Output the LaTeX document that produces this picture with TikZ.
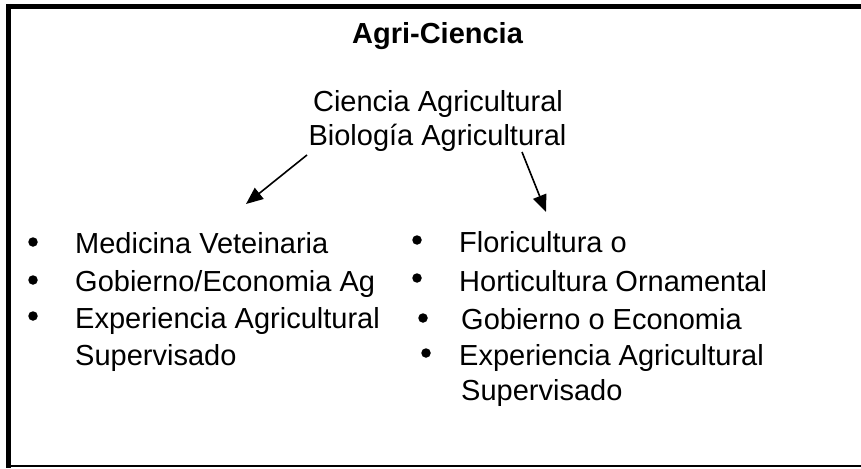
\documentclass[tikz,border=0pt]{standalone}
\usepackage{fontspec}
\setmainfont{Liberation Sans}
\usetikzlibrary{arrows.meta}
\begin{document}
\begin{tikzpicture}[x=1pt,y=-1pt,
  txt/.style={inner sep=0pt,anchor=base west,font=\fontsize{29}{33}\selectfont},
  ctxt/.style={inner sep=0pt,anchor=base,font=\fontsize{29}{33}\selectfont},
  bul/.style={circle,fill=black,inner sep=0pt,minimum size=9.5pt},
  arr/.style={line width=1.6pt,-{Triangle[length=17pt,width=14pt]}}]
\useasboundingbox (0,0) rectangle (861,468);
% frame
\draw[line width=5pt] (6,6.5) -- (861,6.5);
\draw[line width=5pt] (8.5,4) -- (8.5,468);
\draw[line width=2pt] (6,466) -- (861,466);
% titles
\node[ctxt,font=\fontsize{29}{33}\selectfont\bfseries] (title) at (437.5,44) {Agri-Ciencia};
\node[ctxt] (c1) at (438,112) {Ciencia Agricultural};
\node[ctxt] (c2) at (437.5,145) {Biología Agricultural};
% arrows
\coordinate (s1) at (307,155);
\coordinate (t1) at (246,204);
\coordinate (s2) at (522,152);
\coordinate (t2) at (546,212);
\draw[arr] (s1) -- (t1);
\draw[arr] (s2) -- (t2);
% left list
\node[bul] (lb1) at (33,242) {};
\node[bul] (lb2) at (33,280) {};
\node[bul] (lb3) at (33,316) {};
\node[txt] (l1) at (75,253) {Medicina Veteinaria};
\node[txt] (l2) at (75,291) {Gobierno/Economia Ag};
\node[txt] (l3) at (75,328) {Experiencia Agricultural};
\node[txt] (l4) at (75,365) {Supervisado};
% right list
\node[bul] (rb1) at (417,240) {};
\node[bul] (rb2) at (417,278) {};
\node[bul] (rb3) at (423,318) {};
\node[bul] (rb4) at (426,353) {};
\node[txt] (r1) at (459,252) {Floricultura o};
\node[txt] (r2) at (459,291) {Horticultura Ornamental};
\node[txt] (r3) at (461,329) {Gobierno o Economia};
\node[txt] (r4) at (459,365) {Experiencia Agricultural};
\node[txt] (r5) at (461,400) {Supervisado};
\end{tikzpicture}
\end{document}
